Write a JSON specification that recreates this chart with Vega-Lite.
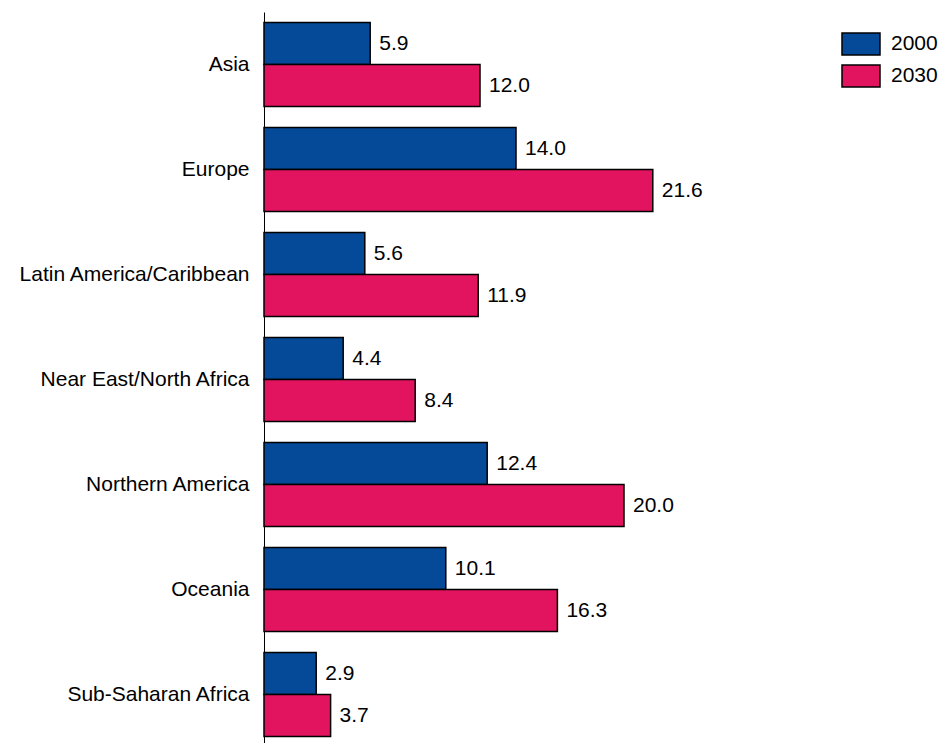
{
  "$schema": "https://vega.github.io/schema/vega-lite/v6.json",
  "width": 684,
  "height": 735,
  "padding": {"left": 15, "top": 12, "right": 0, "bottom": 0},
  "autosize": {"type": "pad"},
  "config": {"view": {"stroke": null}, "font": "Liberation Sans"},
  "data": {
    "values": [
      {"region": "Asia", "year": "2000", "value": 5.9},
      {"region": "Asia", "year": "2030", "value": 12.0},
      {"region": "Europe", "year": "2000", "value": 14.0},
      {"region": "Europe", "year": "2030", "value": 21.6},
      {"region": "Latin America/Caribbean", "year": "2000", "value": 5.6},
      {"region": "Latin America/Caribbean", "year": "2030", "value": 11.9},
      {"region": "Near East/North Africa", "year": "2000", "value": 4.4},
      {"region": "Near East/North Africa", "year": "2030", "value": 8.4},
      {"region": "Northern America", "year": "2000", "value": 12.4},
      {"region": "Northern America", "year": "2030", "value": 20.0},
      {"region": "Oceania", "year": "2000", "value": 10.1},
      {"region": "Oceania", "year": "2030", "value": 16.3},
      {"region": "Sub-Saharan Africa", "year": "2000", "value": 2.9},
      {"region": "Sub-Saharan Africa", "year": "2030", "value": 3.7}
    ]
  },
  "encoding": {
    "y": {
      "field": "region",
      "type": "nominal",
      "sort": null,
      "scale": {"paddingInner": 0.2, "paddingOuter": 0.1},
      "axis": {
        "title": null,
        "ticks": false,
        "labelFontSize": 21,
        "labelColor": "black",
        "labelPadding": 15,
        "domainColor": "black",
        "domainWidth": 1,
        "minExtent": 249,
        "maxExtent": 249,
        "labelLimit": 0
      }
    },
    "yOffset": {"field": "year", "type": "nominal"},
    "x": {
      "field": "value",
      "type": "quantitative",
      "scale": {"domain": [0, 38]},
      "axis": null
    }
  },
  "layer": [
    {
      "mark": {"type": "bar", "stroke": "black", "strokeWidth": 1.5},
      "encoding": {
        "color": {
          "field": "year",
          "type": "nominal",
          "scale": {"domain": ["2000", "2030"], "range": ["#044a98", "#e2135f"]},
          "legend": {
            "title": null,
            "orient": "none",
            "legendX": 585,
            "legendY": 20,
            "symbolType": "M-1.727,-1H1.727V1H-1.727Z",
            "symbolSize": 484,
            "symbolStrokeColor": "black",
            "symbolStrokeWidth": 1.5,
            "symbolOpacity": 1,
            "labelFontSize": 21,
            "labelColor": "black",
            "labelOffset": 18,
            "rowPadding": 4
          }
        }
      }
    },
    {
      "mark": {"type": "text", "align": "left", "baseline": "middle", "dx": 9, "fontSize": 21, "color": "black"},
      "encoding": {
        "text": {"field": "value", "type": "quantitative", "format": ".1f"}
      }
    }
  ]
}
